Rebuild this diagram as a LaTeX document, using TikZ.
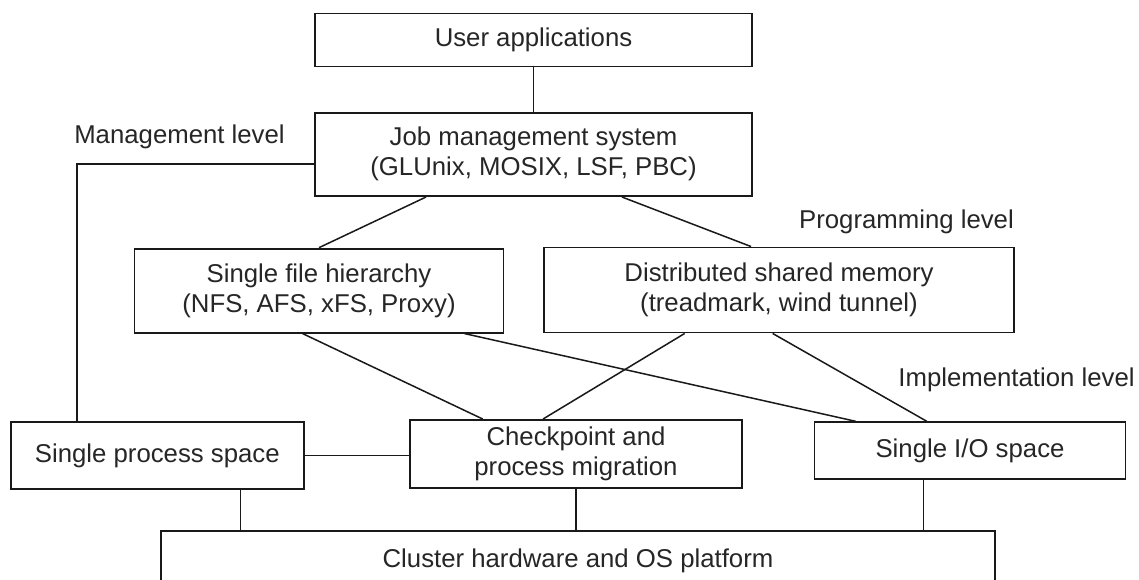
\documentclass[tikz,border=0pt]{standalone}
\usepackage{fontspec}
\setmainfont{Liberation Sans}
\usetikzlibrary{calc}
\begin{document}
\begin{tikzpicture}[x=1pt,y=-1pt,
  box/.style={draw=black!90,line width=1.9pt,fill=white,inner sep=0pt,align=center,text=black!85,
    font=\fontsize{25.75pt}{30pt}\selectfont},
  lbl/.style={inner sep=0pt,text=black!85,font=\fontsize{25.75pt}{30pt}\selectfont},
  conn/.style={draw=black!90,line width=1.5pt}]
\clip (0,0) rectangle (1139,579);
\fill[white] (0,0) rectangle (1139,579);
\node[box,minimum width=437pt,minimum height=53pt] (ua) at (533.5,40) {User applications};
\node[box,minimum width=437pt,minimum height=83.5pt] (jms) at (533.5,154.3) {Job management system\\(GLUnix, MOSIX, LSF, PBC)};
\node[box,minimum width=369pt,minimum height=84pt] (sfh) at (319,290.6) {Single file hierarchy\\(NFS, AFS, xFS, Proxy)};
\node[box,minimum width=470pt,minimum height=85pt] (dsm) at (779,290) {Distributed shared memory\\(treadmark, wind tunnel)};
\node[box,minimum width=292.6pt,minimum height=67.6pt] (sps) at (157.3,455.5) {Single process space};
\node[box,minimum width=332pt,minimum height=67.7pt] (cpm) at (576,453.8) {Checkpoint and\\process migration};
\node[box,minimum width=311pt,minimum height=57pt] (sio) at (970,450.8) {Single I/O space};
\node[box,minimum width=834pt,minimum height=60pt] (chw) at (578,561) {\raisebox{6pt}{Cluster hardware and OS platform}};
\node[lbl] (mgl) at (179.5,137) {Management level};
\node[lbl] (prl) at (906.5,221.7) {Programming level};
\node[lbl] (iml) at (1016.5,380) {Implementation level};
\coordinate (mc) at (77,164);
\draw[conn] (ua.south) -- (jms.north);
\draw[conn] ($(jms.west)+(0,9.7)$) -- (mc) -- (mc |- sps.north);
\draw[conn] ([xshift=112pt]jms.south west) -- ([xshift=185.5pt]sfh.north west);
\draw[conn] ([xshift=-131pt]jms.south east) -- ([xshift=208pt]dsm.north west);
\draw[conn] ([xshift=169pt]sfh.south west) -- ([xshift=73.6pt]cpm.north west);
\draw[conn] ([xshift=-40pt]sfh.south east) -- ([xshift=42.3pt]sio.north west);
\draw[conn] ([xshift=141.6pt]dsm.south west) -- ([xshift=134pt]cpm.north west);
\draw[conn] ([xshift=229.6pt]dsm.south west) -- ([xshift=113.3pt]sio.north west);
\draw[conn] (sps.east) -- (sps.east -| cpm.west);
\draw[conn] ($(cpm.east)+(0,4)$) -- ($(cpm.east)+(0,4)$ -| sio.west);
\draw[conn] ([xshift=230.5pt]sps.south west) -- ([xshift=230.5pt]sps.south west |- chw.north);
\draw[conn] (cpm.south) -- (cpm.south |- chw.north);
\draw[conn] ([xshift=110pt]sio.south west) -- ([xshift=110pt]sio.south west |- chw.north);
\end{tikzpicture}
\end{document}
